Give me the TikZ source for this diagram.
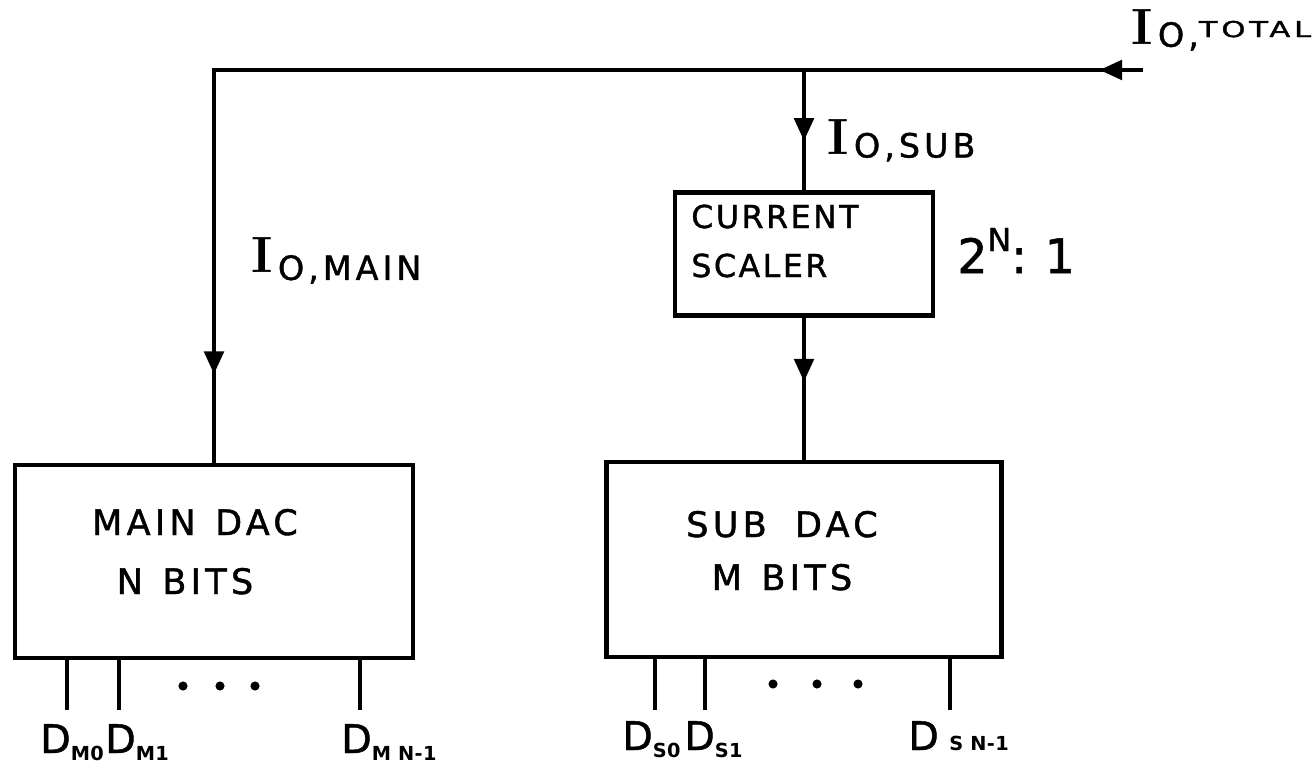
\documentclass[tikz,border=0pt]{standalone}
\usepackage{fontspec}
\setsansfont[LetterSpace=12,FakeBold=1.2]{DejaVu Sans}
\newfontfamily\widefont[LetterSpace=8,FakeBold=1.2]{DejaVu Sans}
\newfontfamily\subfont[LetterSpace=2]{DejaVu Sans}
\usetikzlibrary{arrows.meta,decorations.markings}
\newcommand\Ilab[3]{{\rmfamily\bfseries\fontsize{29}{30}\selectfont I}\hspace{3pt}\raisebox{#1}{\sffamily\fontsize{19}{20}\selectfont O,#2}#3}
\newcommand\Dlab[2]{{\sffamily\fontsize{22.5}{26}\selectfont D}\raisebox{#1}{\subfont\fontsize{11}{13}\selectfont\bfseries #2}}
\begin{document}
\begin{tikzpicture}[x=0.02cm,y=-0.02cm,
  wire/.style={line width=2.6pt},
  box/.style={draw,line width=2.6pt,inner sep=0pt},
  lbl/.style={inner sep=0pt,font=\sffamily},
  arrowA/.style={postaction={decorate},decoration={markings,
     mark=at position #1 with {\arrow{Triangle[length=13pt,width=11pt]}}}},
  arrowTwo/.style 2 args={postaction={decorate},decoration={markings,
     mark=at position #1 with {\arrow{Triangle[length=13pt,width=11pt]}},
     mark=at position #2 with {\arrow{Triangle[length=13pt,width=11pt]}}}}
]
\fill[white] (0,0) rectangle (1314,767);
\useasboundingbox (0,0) rectangle (1314,767);

% boxes
\node[box,minimum width=7.96cm,minimum height=3.86cm] (maindac) at (214,561.5) {};
\node[box,minimum width=7.9cm,minimum height=3.9cm] (subdac) at (804,559.5) {};
\node[box,minimum width=5.16cm,minimum height=2.46cm] (scaler) at (804,254) {};

% box texts
\node[lbl,anchor=base] (t1) at (195,535) {\fontsize{20}{24}\selectfont MAIN\hspace{0.55em}DAC};
\node[lbl,anchor=base] (t2) at (185,594) {\fontsize{20}{24}\selectfont N\hspace{0.55em}BITS};
\node[lbl,anchor=base] (t3) at (782,537) {\fontsize{20}{24}\selectfont SUB\hspace{0.8em}DAC};
\node[lbl,anchor=base] (t4) at (782,590) {\fontsize{20}{24}\selectfont M\hspace{0.55em}BITS};
\node[lbl,anchor=base west] (t5) at (691,228) {\widefont\fontsize{18}{20}\selectfont CURRENT};
\node[lbl,anchor=base west] (t6) at (691,277) {\widefont\fontsize{18}{20}\selectfont SCALER};

% current wires
\coordinate (in) at (1143,70);
\coordinate (jL) at (maindac.north |- in);
\coordinate (jS) at (scaler.north |- in);
\draw[wire,arrowTwo={0.033}{0.933}] (in) -- (jL) -- (maindac.north);
\draw[wire,arrowA=0.59] (jS) -- (scaler.north);
\draw[wire,arrowA=0.45] (scaler.south) -- (subdac.north);

% current labels
\node[lbl,anchor=base west] (itot) at (1131,45) {\Ilab{-1pt}{}{\raisebox{4.5pt}{\scalebox{1.4}[1]{\sffamily\fontsize{12.5}{14}\selectfont TOTAL}}}};
\node[lbl,anchor=base west] (isub) at (827,154) {\Ilab{-2pt}{SUB}{}};
\node[lbl,anchor=base west] (imain) at (251,272) {\Ilab{-4.5pt}{MAIN}{}};
\node[lbl,anchor=base west] (ratio) at (957,273) {\fontsize{27}{30}\selectfont 2\raisebox{12.5pt}{\fontsize{18}{20}\selectfont N}:\hspace{10pt}1};

% pins
\coordinate (pm0) at (67,710);
\coordinate (pm1) at (119,710);
\coordinate (pmn) at (360,710);
\coordinate (ps0) at (655,710);
\coordinate (ps1) at (705,710);
\coordinate (psn) at (950,710);
\foreach \p/\b in {pm0/maindac,pm1/maindac,pmn/maindac,ps0/subdac,ps1/subdac,psn/subdac}
  \draw[wire] (\p |- \b.south) -- (\p);

% dots
\foreach \x/\y in {183/686,220/686,255/686,773/684,817/684,858/684}
  \fill (\x,\y) circle[radius=2.6pt];

% pin labels
\node[lbl,anchor=base west] (dm0) at (40,753) {\Dlab{-4pt}{M0}};
\node[lbl,anchor=base west] (dm1) at (105,753) {\Dlab{-4pt}{M1}};
\node[lbl,anchor=base west] (dmn) at (341,753) {\Dlab{-4pt}{M N-1}};
\node[lbl,anchor=base west] (ds0) at (622,750) {\Dlab{-4pt}{S0}};
\node[lbl,anchor=base west] (ds1) at (684,750) {\Dlab{-4pt}{S1}};
\node[lbl,anchor=base west] (dsn) at (908,750) {\Dlab{0pt}{\hspace{6pt}S N-1}};
\end{tikzpicture}
\end{document}
